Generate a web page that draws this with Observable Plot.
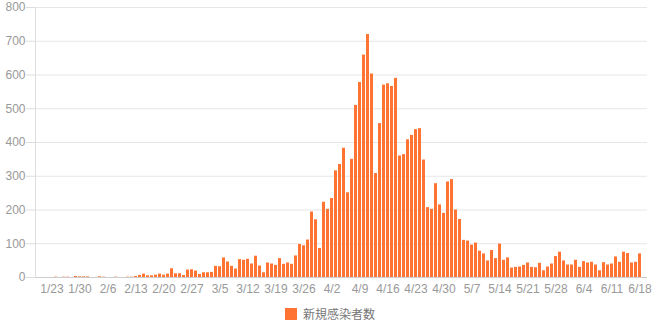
<!DOCTYPE html>
<html>
<head>
<meta charset="utf-8">
<script src="https://cdn.jsdelivr.net/npm/d3@7"></script>
<script src="https://cdn.jsdelivr.net/npm/@observablehq/plot@0.6"></script>
<style>
  body { margin: 0; background: #fff; font-family: "Liberation Sans", Arial, sans-serif; }
  #legend { display: flex; justify-content: center; align-items: center; margin-top: 5px;
            font: 12px "Noto Sans CJK JP", sans-serif; color: #777; }
  #legend .sw { width: 12px; height: 12px; margin-right: 6px; display: inline-block; }
</style>
</head>
<body>
<div id="chart"></div>
<div id="legend"></div>
<script>
// Daily new cases, one value per day starting at startDate
const startDate = "2020-01-21";
const newCases = [
  0, 0, 0, 1, 0, 1, 1, 0, 3, 2,
  2, 2, 0, 0, 2, 1, 0, 0, 1, 0,
  0, 1, 1, 3, 6, 10, 5, 5, 7, 10,
  7, 10, 26, 11, 11, 6, 22, 23, 19, 9,
  14, 14, 15, 33, 32, 58, 46, 33, 25, 53,
  51, 54, 40, 63, 34, 14, 43, 40, 36, 56,
  39, 43, 39, 64, 98, 94, 111, 194, 171, 86,
  223, 202, 234, 316, 335, 383, 251, 350, 510, 578,
  659, 720, 603, 308, 456, 570, 574, 566, 590, 360,
  364, 408, 421, 438, 441, 348, 207, 202, 278, 215,
  190, 283, 290, 200, 172, 110, 108, 96, 102, 78,
  70, 49, 80, 56, 99, 51, 58, 28, 30, 31,
  36, 43, 30, 29, 42, 20, 31, 40, 62, 75,
  49, 37, 37, 51, 30, 47, 43, 45, 37, 20,
  44, 37, 40, 61, 45, 75, 71, 43, 45, 70
];
const xTickLabels = ["1/23","1/30","2/6","2/13","2/20","2/27","3/5","3/12","3/19","3/26",
  "4/2","4/9","4/16","4/23","4/30","5/7","5/14","5/21","5/28","6/4","6/11","6/18"];
const yTicks = [0, 100, 200, 300, 400, 500, 600, 700, 800];
const seriesName = "新規感染者数";
const barColor = "#ff7433";

const start = new Date(startDate + "T00:00:00Z");
const fmt = d => `${d.getUTCMonth() + 1}/${d.getUTCDate()}`;
const data = newCases.map((v, i) => ({ day: fmt(d3.utcDay.offset(start, i)), value: v }));

const chart = Plot.plot({
  width: 660,
  height: 300,
  marginTop: 7,
  marginBottom: 23,
  marginLeft: 35,
  marginRight: 13,
  style: { fontFamily: "Liberation Sans, Arial, sans-serif", fontSize: "12px", color: "#999", background: "#fff" },
  x: { type: "band", domain: data.map(d => d.day), paddingInner: 0.25, paddingOuter: 0.125, label: null },
  y: { domain: [0, 800], label: null },
  marks: [
    Plot.gridY(yTicks, { stroke: "#e6e6e6", strokeOpacity: 1 }),
    Plot.axisY(yTicks, { tickSize: 9, tickPadding: 1, stroke: "#ddd", fill: "#999", label: null }),
    Plot.axisX(xTickLabels, { tickSize: 0, tickPadding: 7, fill: "#999", label: null }),
    Plot.barY(data, { x: "day", y: "value", fill: barColor }),
    Plot.ruleY([0], { stroke: "#ccc" }),
    Plot.frame({ anchor: "left", stroke: "#ddd" })
  ]
});
document.getElementById("chart").appendChild(chart);

const legend = document.getElementById("legend");
const sw = document.createElement("span");
sw.className = "sw";
sw.style.background = barColor;
const lab = document.createElement("span");
lab.textContent = seriesName;
legend.appendChild(sw);
legend.appendChild(lab);
</script>
</body>
</html>
